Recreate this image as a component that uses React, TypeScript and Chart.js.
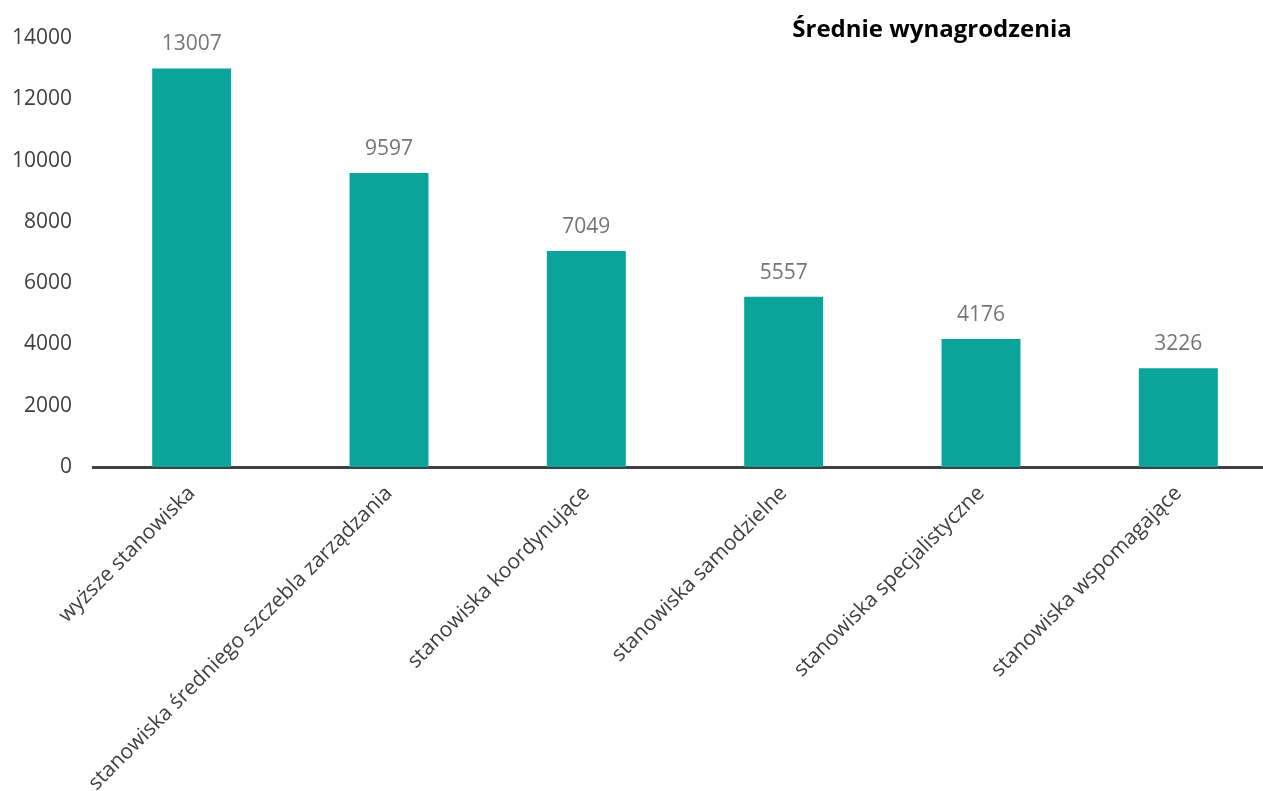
import React, { useEffect, useRef } from "react";
import { Chart, registerables } from "chart.js";

Chart.register(...registerables);

const categories: string[] = [
  "wyższe stanowiska",
  "stanowiska średniego szczebla zarządzania",
  "stanowiska koordynujące",
  "stanowiska samodzielne",
  "stanowiska specjalistyczne",
  "stanowiska wspomagające",
];
const salaries: number[] = [13007, 9597, 7049, 5557, 4176, 3226];
const titleText = "Średnie wynagrodzenia";

const FONT = "'Open Sans', 'DejaVu Sans', sans-serif";

const valueLabels = {
  id: "valueLabels",
  afterDatasetsDraw(chart: any) {
    const ctx = chart.ctx;
    const meta = chart.getDatasetMeta(0);
    ctx.save();
    ctx.font = `21px ${FONT}`;
    ctx.fillStyle = "#757575";
    ctx.textAlign = "center";
    ctx.textBaseline = "middle";
    meta.data.forEach((bar: any, i: number) => {
      ctx.fillText(String(chart.data.datasets[0].data[i]), bar.x, bar.y - 24);
    });
    ctx.restore();
  },
};

const titlePlugin = {
  id: "customTitle",
  afterDraw(chart: any) {
    const ctx = chart.ctx;
    ctx.save();
    ctx.font = `bold 24px ${FONT}`;
    ctx.fillStyle = "#000000";
    ctx.textAlign = "center";
    ctx.textBaseline = "middle";
    ctx.fillText(titleText, 932, 30);
    ctx.restore();
  },
};

export default function App() {
  const ref = useRef<HTMLCanvasElement | null>(null);
  useEffect(() => {
    if (!ref.current) return;
    const chart = new Chart(ref.current, {
      type: "bar",
      data: {
        labels: categories,
        datasets: [
          {
            data: salaries,
            backgroundColor: "#0aa49b",
            barPercentage: 0.8,
            categoryPercentage: 0.5,
          },
        ],
      },
      options: {
        responsive: false,
        animation: false,
        layout: { padding: { top: 38, right: 0, left: 0, bottom: 0 } },
        plugins: {
          legend: { display: false },
          title: { display: false },
          tooltip: { enabled: false },
        },
        scales: {
          x: {
            grid: { display: false, drawTicks: false },
            border: { display: true, color: "#404040", width: 3 },
            ticks: {
              color: "#404040",
              font: { family: FONT, size: 21 },
              maxRotation: 45,
              minRotation: 45,
              autoSkip: false,
              padding: 14,
            },
            afterFit: (scale: any) => {
              scale.height = 791 - 467;
            },
          },
          y: {
            min: 0,
            max: 14000,
            grid: { display: false, drawTicks: false },
            border: { display: false },
            ticks: {
              stepSize: 2000,
              color: "#404040",
              font: { family: FONT, size: 21 },
              padding: 21,
              callback: (v: any) => String(v),
            },
            afterFit: (scale: any) => {
              scale.width = 93;
            },
          },
        },
      },
      plugins: [valueLabels, titlePlugin],
    });
    return () => chart.destroy();
  }, []);
  return (
    <div
      style={{
        position: "absolute",
        left: 0,
        top: 0,
        width: 1263,
        height: 791,
        overflow: "hidden",
        background: "#ffffff",
      }}
    >
      <canvas ref={ref} width={1277} height={791} />
    </div>
  );
}
